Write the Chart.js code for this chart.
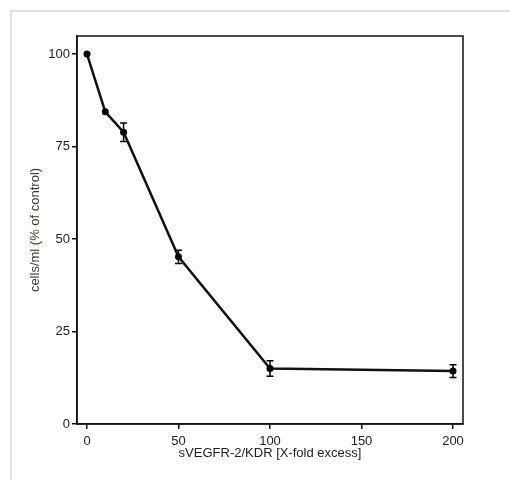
<!DOCTYPE html>
<html>
<head>
<meta charset="utf-8">
<script src="https://cdn.jsdelivr.net/npm/chart.js@4/dist/chart.umd.min.js"></script>
<style>
  body { margin: 0; background: #fff; }
  #frame { position: absolute; left: 10px; top: 10px; width: 520px; height: 490px; border: 2px solid #e2e2e2; }
  #c { position: absolute; left: 0; top: 0; }
</style>
</head>
<body>
<div id="frame"></div>
<canvas id="c" width="510" height="480"></canvas>
<script>
// fold excess of sVEGFR-2/KDR
const foldExcess = [0, 10, 20, 50, 100, 200];
// cells/ml as % of control
const cellsPct = [100, 84.4, 78.9, 45.2, 15.0, 14.3];
// error bar half-heights
const errPct = [0, 0, 2.5, 1.8, 2.1, 1.7];
const xTicks = [0, 50, 100, 150, 200];
const yTicks = [0, 25, 50, 75, 100];

const font = { family: "'Liberation Sans', Arial, sans-serif", size: 13 };

// draw error bars using the scales
const errorBars = {
  id: "errorBars",
  afterDatasetsDraw(chart) {
    const ctx = chart.ctx;
    const xs = chart.scales.x, ys = chart.scales.y;
    ctx.save();
    ctx.strokeStyle = "#000";
    ctx.lineWidth = 1.5;
    foldExcess.forEach((x, i) => {
      if (!errPct[i]) return;
      const px = xs.getPixelForValue(x);
      const top = ys.getPixelForValue(cellsPct[i] + errPct[i]);
      const bot = ys.getPixelForValue(cellsPct[i] - errPct[i]);
      ctx.beginPath();
      ctx.moveTo(px, top); ctx.lineTo(px, bot);
      ctx.moveTo(px - 3.5, top); ctx.lineTo(px + 3.5, top);
      ctx.moveTo(px - 3.5, bot); ctx.lineTo(px + 3.5, bot);
      ctx.stroke();
    });
    ctx.restore();
  }
};

// box around the plot area
const boxFrame = {
  id: "boxFrame",
  beforeDatasetsDraw(chart) {
    const { ctx, chartArea: a } = chart;
    ctx.save();
    ctx.strokeStyle = "#111";
    ctx.lineWidth = 1.5;
    ctx.strokeRect(a.left, a.top, a.right - a.left, a.bottom - a.top);
    ctx.restore();
  }
};

new Chart(document.getElementById("c"), {
  type: "scatter",
  data: {
    datasets: [{
      data: foldExcess.map((x, i) => ({ x: x, y: cellsPct[i] })),
      showLine: true,
      borderColor: "#111",
      borderWidth: 2.5,
      backgroundColor: "#000",
      pointRadius: 3.5,
      pointBorderWidth: 0
    }]
  },
  options: {
    responsive: false,
    animation: false,
    layout: { padding: { left: 0, right: 47, top: 36, bottom: 0 } },
    plugins: { legend: { display: false }, tooltip: { enabled: false } },
    scales: {
      x: {
        type: "linear",
        min: -5.46,
        max: 205.46,
        afterBuildTicks: (s) => { s.ticks = xTicks.map(v => ({ value: v })); },
        afterFit: (s) => { s.height = 56; },
        grid: { drawOnChartArea: false, tickLength: 5, color: "#111", lineWidth: 1.5 },
        border: { color: "#111", width: 1.5 },
        ticks: { color: "#222", font: font, padding: 5, maxRotation: 0 },
        title: { display: true, text: "sVEGFR-2/KDR [X-fold excess]", color: "#222", font: font, padding: { top: 0, bottom: 19 } }
      },
      y: {
        min: 0,
        max: 104.9,
        afterBuildTicks: (s) => { s.ticks = yTicks.map(v => ({ value: v })); },
        afterFit: (s) => { s.width = 77; },
        grid: { drawOnChartArea: false, tickLength: 5, color: "#111", lineWidth: 1.5 },
        border: { color: "#111", width: 1.5 },
        ticks: { color: "#222", font: font, padding: 2 },
        title: { display: true, text: "cells/ml (% of control)", color: "#34432a", font: font, padding: { top: 28, bottom: 0 } }
      }
    }
  },
  plugins: [boxFrame, errorBars]
});
</script>
</body>
</html>
